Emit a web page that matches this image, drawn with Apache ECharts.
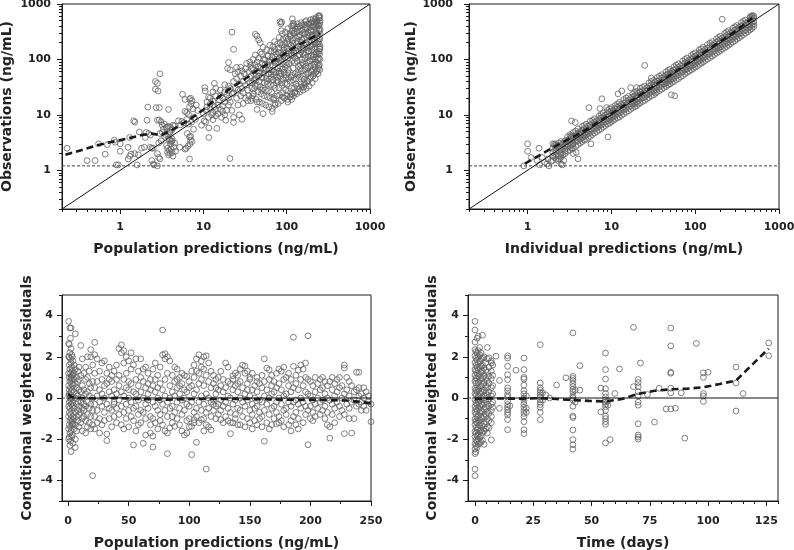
<!DOCTYPE html>
<html><head><meta charset="utf-8">
<script src="https://cdn.jsdelivr.net/npm/echarts@6/dist/echarts.min.js"></script>
<style>html,body{margin:0;padding:0;background:#fff}#c{width:794px;height:550px}</style>
</head><body><div id="c"></div>
<script>
// ---------- Panel 1: population predictions vs observations (ng/mL) ----------
const p1Sparse = [[0.23,2.5],[0.4,1.5],[0.5,1.5],[0.55,3.0],[0.66,1.95],[0.7,2.9],[0.85,3.5],[0.87,3.2],[0.9,1.25],[0.95,1.25],[1.0,3.0],[1.0,2.2],[1.24,2.6],[1.3,3.9],[1.3,1.8],[1.25,1.6],[1.35,1.95],[1.45,7.8],[1.5,7.4],[1.5,2.0],[1.6,1.25],[1.65,1.9],[1.7,4.9],[1.8,2.5],[1.95,2.6],[2.0,3.9],[2.05,4.8],[2.1,8.0],[2.15,13.8],[2.2,4.6],[2.3,4.3],[2.3,2.6],[2.4,2.5],[2.5,2.5],[2.4,1.5],[2.5,1.3],[2.55,1.25],[2.65,40],[2.8,37],[2.65,29],[2.85,27],[2.7,13.5],[2.95,13.5],[3.0,55],[2.8,8],[2.95,8.1],[2.8,2.0],[2.9,1.7],[3.0,1.6],[2.8,1.2],
[3.1,7.5],[3.2,6.5],[3.3,5.5],[3.4,6.8],[3.5,4.4],[3.6,5.9],[3.2,4.8],[3.4,4.1],[3.8,6.2],[4.2,5.4],[4.5,6.3],[4.0,4.9],[3.0,4.6],[3.1,3.4],[2.9,3.1],
[3.7,2.1],[3.8,1.9],[3.9,2.3],[4.0,2.0],[4.1,2.4],[4.2,2.1],[4.3,1.8],[4.4,2.6],[3.6,2.8],[4.0,3.0],[4.2,3.4],[3.9,3.6],[4.5,3.1],[3.7,2.5],[4.6,2.2],
[3.6,6],[3.7,4.5],[3.9,4.8],[3.9,3.5],[4.1,3.3],[4.2,3.7],[4,6],[4.3,6.5],[3.8,12.5],
[5.6,23.5],[6,19],[6.0,11.5],[6.3,11],[6.3,8.3],[5.8,7.2],[5.5,7.6],[6.2,2.5],[6,2.4],[6.5,2.7],[6.8,1.6],[6.8,19],[7,20],[7.3,18],[6.8,4],[7,4.1],[7,3.5],[7.3,3.3],[6.9,3.0],[7.7,9],[8,8.3],[8.5,12],[9.5,6.5],[5.0,7.8],[5.3,6.6],[6.6,6.8],[7.2,7.4],[6.6,10.2],[7.5,12.8],[8.2,15],[5.2,2.6],[6.4,4.6],[7.6,5.5],[6.8,14],[7.1,16],
[10.4,31],[10.5,27],[11.5,21],[11,17],[10.2,7.8],[10.6,7.4],[11.6,3.9],[11.6,5.8],[14.5,5.7],[13,26],[14,30],[13.5,37],[13.5,14],[14,12.5],[16,12.5],[17,11.5],[10,10.5],[10.8,12],[11.5,9],[12,13],[12.5,10],[12,15.5],[13,17.5],[13,8.2],[14,9.6],[15,15],[15.5,18.5],[16,22],[17,20],[17,14.5],[18,17],[18,26],[19,23],[19,12],[20,20],[15,10.5],[16.5,9],[18.5,8],[12,20],[14,22],[16,28],[18,35],[11,14],[13,11],[20,15],[20,27],[21,30],[21,17],[22,24],[22,12],[18,10],
[20,33],[19.5,69],[21,65],[22,310],[23,152],[20,88],[20.8,1.63],[23,9],[23,7.3],[27,10],[29,8.3],[25,72],[28,72],[33,85],[37,78],[23,40],[24,30],[25,20],[25,45],[26,28],[27,36],[28,22],[28,50],[29,30],[30,40],[30,25],[31,55],[32,20],[32,34],[33,45],[34,28],[35,60],[35,22],[36,38],[37,50],[38,30],[39,70],[40,42],[40,24],[24,55],[26,15],[30,16],[34,18],[38,20],[23,25],[26,60],[29,62],[32,68],[36,90],
[42,285],[44,265],[46,225],[48,200],[52,165],[37,18],[44,17],[44,12.5],[52,10.5],[67,11.5],[72,16],[70,20],
[83,480],[87,470],[85,440],[86,330],[117,540],[120,450],[120,400],[160,32],[125,25],[110,21],[115,19],[103,17],[245,620]];
const p1Dense = [
[39,22],[41,30],[38.5,38],[42,45],[40,55],[37.5,68],[41.5,80],[39.5,100],
[43,19],[45,26],[44.5,34],[42.5,42],[46,50],[43.5,62],[45.5,75],[44,90],[42,120],
[47,17],[49.5,24],[48,32],[46.5,40],[50,48],[47.5,58],[49,70],[51,85],[46,105],[48.5,135],
[51,16],[53.5,22],[52,30],[54,38],[50.5,47],[53,56],[51.5,68],[55,82],[52.5,100],[50,125],
[56,15],[58.5,21],[55.5,28],[59,36],[57,45],[60,55],[56.5,66],[58,80],[55,98],[59.5,118],[57.5,150],
[61,14],[63.5,20],[60.5,27],[64,35],[62,44],[65,54],[61.5,65],[63,78],[66,95],[60,115],[64.5,140],[62.5,180],
[67,13],[69.5,19],[66,26],[70,34],[68.5,43],[71,53],[67.5,64],[69,77],[72,92],[66.5,112],[70.5,138],[68,170],[71.5,210],
[73,15],[76,22],[72.5,30],[75,38],[77,48],[74,58],[78,70],[73.5,85],[76.5,102],[75.5,125],[72,150],[77.5,190],
[79,16],[82,23],[80.5,31],[78.5,40],[83,50],[81,61],[84,74],[79.5,90],[82.5,108],[85,130],[80,160],[83.5,200],[81.5,250],
[86,18],[89,25],[87.5,34],[90,44],[85.5,55],[88,67],[91,82],[86.5,100],[89.5,122],[92,148],[87,180],[90.5,230],[88.5,290],
[94,20],[97,28],[95.5,37],[98,47],[93,58],[96,72],[99,88],[94.5,106],[97.5,130],[100,158],[95,195],[98.5,245],[96.5,310],
[102,19],[105,27],[101,36],[106,46],[103.5,57],[107,85],[104,105],[108,128],[102.5,155],[106.5,190],[104.5,235],[109,290],[103,360],
[111,21],[114,30],[110,40],[115,52],[117,95],[112.5,118],[116,145],[113,178],[118,220],[111.5,270],[115.5,330],[114.5,400],
[121,22],[124,31],[120,42],[126,55],[127,105],[122.5,130],[125,160],[119,195],[128,240],[123,295],[126.5,360],[121.5,420],
[132,24],[135,33],[130,45],[137,58],[139,75],[133.5,92],[136,115],[131,140],[138,172],[134,210],[140,258],[132.5,315],[136.5,380],[134.5,440],
[144,26],[148,36],[142,48],[150,62],[146,80],[152,98],[143,122],[149,150],[147,185],[153,225],[145.5,275],[151,335],[144.5,400],[148.5,460],
[157,28],[161,38],[155,50],[164,65],[159,84],[166,104],[156,128],[162,158],[168,195],[160,240],[165,290],[158.5,350],[163,420],[167,480],
[171,30],[176,41],[169,54],[179,70],[174,88],[181,110],[170,135],[177,165],[183,205],[173,250],[180,305],[175,370],[178,440],[172,500],
[186,33],[191,45],[184,58],[194,75],[189,94],[197,116],[185,142],[192,175],[199,215],[188,262],[195,320],[190,385],[196,455],[193,520],
[202,38],[207,50],[200,64],[210,82],[205,100],[213,122],[201,150],[209,185],[215,225],[204,275],[211,335],[206,400],[214,470],[208,540],
[219,45],[224,58],[217,72],[227,90],[222,110],[229,135],[218,165],[226,200],[231,245],[221,300],[228,360],[223,430],[230,500],[225,570],
[237,55],[241,68],[234,84],[243,104],[239,128],[245,156],[235,190],[242,232],[236,285],[244,345],[240,410],[233,480],[246,560],
[249,65],[247,80],[250,100],[248,125],[251,155],[246,190],[250,235],[248,290],[252,350],[247,420],[250,500],[249,600],
[42,33],[46,58],[50,28],[54,64],[58,40],[61,90],[65,48],[70,60],[73,110],[76,42],[79,135],[82,56],[85,95],[88,38],[91,115],[93,165],[97,52],[100,78],[101,210],[105,66],[107,140],[110,260],[113,48],[116,120],[119,70],[120,300],[124,88],[127,200],[129,36],[131,165],[134,265],[137,52],[140,120],[142,345],[146,68],[149,205],[151,420],[154,88],[157,160],[159,300],[162,44],[165,120],[168,380],[170,75],[173,180],[176,280],[179,56],[182,140],[185,440],[188,95],[191,230],[194,340],[197,60],[200,165],[203,480],[206,110],[210,260],[213,390],[216,80],[219,190],[222,520],[225,125],[228,290],[232,440],[235,100],[238,210],[241,600],[244,140],[247,320],[249,460],[251,170],[243,75],[230,62],[214,55],[196,48],[180,40],[166,36],[152,32],[139,29],[126,26],[114,24],[100,22],[90,21]
];
const p1Trend = [[0.22,1.9],[0.52,2.8],[0.78,3.25],[1.24,3.75],[1.78,4.3],[2.35,4.6],[3.1,4.3],[4.0,5.1],[4.9,6.1],[6.4,7.8],[8,9.8],[10,12.5],[14,19],[21,30],[30,42],[45,65],[65,90],[84,112],[120,160],[170,215],[250,295]];

// ---------- Panel 2: individual predictions vs observations ----------
const p2Sparse = [[0.9,1.2],[1.0,3.0],[1.0,2.2],[1.1,1.7],[1.37,2.5],[1.4,1.25],[1.6,1.4],[1.7,1.3],[1.75,1.6],[1.8,1.2],[2.1,3.0],[2.2,2.9],[2.3,1.5],[2.5,1.3],[2.6,1.25],[2.5,1.9],[2.8,2.2],[1.3,1.5],[1.5,1.7],[1.9,1.45],[2.0,1.8],[2.4,1.6],[2.7,1.5],
[3.35,7.8],[3.7,7.3],[3.3,4.2],[3.5,3.8],[3.5,2.0],[3.8,2.1],[4.0,1.6],[4.1,4.4],[5.4,13.5],[5.7,3.0],[7.7,19.5],[7.3,13],[9.1,4.0],[8.8,13.5],[13.3,27],[25,78],[52,23],[57,22],[210,530],[12,24],[17,31],[30,46],[480,620],[460,600]];
const p2Cols = [
 [2.0,[1.5,1.8,2.1,2.5,3.0]],[2.2,[1.6,1.9,2.3,2.7]],[2.5,[1.7,2.0,2.4,2.9,3.3]],[2.8,[2.0,2.4,2.8,3.4]],
 [3.2,[2.3,2.7,3.2,3.7,4.4]],[3.5,[2.5,3.0,3.5,4.1,4.8]],[4.0,[2.9,3.4,4.0,4.7,5.6]],[4.5,[3.3,3.9,4.6,5.3,6.2]],
 [5.0,[3.6,4.3,5.0,5.8,6.8]],[5.6,[4.1,4.8,5.6,6.6,7.7]],[6.3,[4.7,5.5,6.4,7.4,8.5]],[7.1,[5.3,6.2,7.2,8.2,9.5]],
 [8.0,[6.0,7.0,8.1,9.3,10.8]],[9.0,[6.8,7.9,9.1,10.5,12]],[10,[7.5,8.7,10,11.5,13.5]],[11,[8.3,9.6,11.2,12.8,14.6]],
 [12.5,[9.2,10.8,12.6,14.5,16.8]],[14,[10.4,12.1,14,16.2,18.8]],[16,[11.8,13.8,16,18.5,21.5]],[18,[13.5,15.6,18.2,21,24]],
 [20,[14.6,17,19.8,23,26.5,31]],[22,[16.5,19.2,22.5,26,30]],[25,[18.2,21.2,24.6,28.5,33]],[28,[20.5,24,28,32.5,37.5]],
 [32,[23,27,31.5,36.5,42]],[35,[25.5,30,35,40.5,47]],[40,[29,34,39.5,46,53]],[45,[32.5,38,44.5,52,60]],
 [50,[36,42,49,57,66]],[56,[40,47,55,64,74]],[63,[45,53,62,72,83]],[71,[51,60,70,81,94]],
 [80,[58,67,78,91,106]],[90,[65,76,88,102,118]],[100,[72,84,98,114,132]],[112,[81,95,110,128,148]],
 [125,[90,105,122,142,165]],[140,[101,118,137,160,185]],[160,[115,135,157,182,210]],[180,[130,152,176,204,236]],
 [200,[145,168,196,228,262]],[225,[163,190,220,256,295]],[250,[180,210,245,285,330]],[280,[205,238,275,318,365]],
 [315,[232,268,310,357,410]],[355,[262,302,348,400,460]],[400,[298,340,392,450,515]],[450,[340,385,440,505,570]],
 [500,[390,430,490,560,610]],
 [2.1,[1.7,2.3,2.8]],[2.35,[1.8,2.2,2.6,3.1]],[2.65,[1.9,2.6,3.1]],[3.0,[2.2,2.6,3.0,3.5,4.0]],
 [3.35,[2.5,2.9,3.4,4.0]],[3.75,[2.7,3.3,3.8,4.4,5.1]],[4.25,[3.1,3.7,4.3,5.0]],[4.75,[3.5,4.1,4.7,5.5,6.4]],
 [5.3,[3.9,4.6,5.3,6.2]],[5.95,[4.4,5.2,6.0,7.0,8.0]],[6.7,[5.0,5.8,6.8,7.9]],[7.55,[5.6,6.6,7.6,8.8,10.1]],
 [8.5,[6.4,7.4,8.6,9.9]],[9.5,[7.1,8.3,9.6,11.2,12.8]],[10.5,[7.9,9.2,10.6,12.2]],[11.8,[8.8,10.2,11.9,13.7,15.8]],
 [13.2,[9.8,11.5,13.3,15.4]],[15,[11.1,12.9,15.1,17.4,20.1]],[17,[12.6,14.7,17.1,19.8]],[19,[14,16.3,19.1,22,25.5]],
 [21,[15.6,18.2,21.2,24.5]],[23.5,[17.3,20.2,23.6,27.3,31.5]],[26.5,[19.6,22.8,26.6,30.8]],[30,[22,25.8,30.1,34.8,40.2]],
 [33.5,[24.6,28.8,33.6,38.8]],[37.5,[27.4,32,37.6,43.5,50.1]],[42.5,[31,36.3,42.6,49.2]],[47.5,[34.5,40.4,47.5,55,63.5]],
 [53,[38.5,45,52.8,61]],[59.5,[43.2,50.5,59.2,68.5,79]],[67,[48.5,56.8,66.6,77]],[75.5,[54.8,64.2,75,86.8,100]],
 [85,[61.5,72,84.3,97.5]],[95,[68.5,80.3,94,108.8,125]],[106,[76.5,89.6,105,121.5]],[118,[85.3,100,117,135.6,156]],
 [132,[95.5,112,131,151.6]],[150,[108,127,148,171.5,197]],[170,[123,144,168,194.5]],[190,[137,161,188,217.5,250]],
 [212,[153,180,210,243]],[237,[171,200,234,271,312]],[265,[192,225,263,304]],[297,[216,252,295,340,388]],
 [335,[246,287,332,382]],[377,[280,322,372,428,490]],[425,[318,362,416,478]],[475,[360,410,465,530,590]]
];
const p2Trend = [[0.93,1.32],[1.4,1.87],[2.4,3.0],[3.5,4.0],[5,5.4],[10,10.4],[30,31],[100,104],[300,320],[480,560]];

// ---------- Panel 3: population predictions vs CWRES ----------
const p3Cols = [
 [0.5,[3.72,2.65,2.0,1.2,0.6,0.1,-0.4,-0.9,-1.5,-2.0]],[1,[2.6,2.0,1.6,1.0,0.4,-0.2,-0.7,-1.3,-1.9,0.2]],
 [1.5,[3.4,2.2,1.4,0.8,0.0,-0.5,-1.1,-1.7,-2.3]],[2,[2.9,1.9,1.2,0.5,-0.1,-0.8,-1.4,-2.1,0.9]],
 [2.5,[3.4,2.4,1.7,1.0,0.3,-0.3,-1.0,-1.6,-2.6]],[3,[2.1,1.5,0.7,0.0,-0.6,-1.2,-1.9,1.1]],
 [3.5,[2.0,1.3,0.4,-0.4,-1.1,-1.3,-1.8,0.9]],[4,[1.8,1.1,0.6,-0.2,-0.9,-1.25,-2.2]],
 [5,[1.6,0.9,0.3,-0.5,-1.0,-1.5,1.2]],[6,[3.12,1.4,0.7,0.0,-0.7,-1.3,-2.4,-2.0]],
 [7,[1.0,0.5,-0.3,-0.9,-1.6,0.2]],[8,[1.3,0.8,0.1,-0.6,-1.1,-0.2]],[9,[0.9,0.4,-0.4,-0.8,-1.4,1.5]],
 [10.5,[2.55,1.1,0.3,-0.2,-0.7,-1.2]],[11.8,[1.9,0.6,0.0,-0.5,-1.0,-1.6]],[13,[1.2,0.4,-0.3,-0.9,-0.6]],
 [14.5,[1.5,0.9,0.2,-0.4,-1.1,-1.7]],[16,[1.0,0.3,-0.2,-0.8,-1.4,2.0]],[17.5,[1.3,0.7,0.1,-0.5,-1.2]],
 [18.7,[2.35,2.0,0.5,-0.3,-0.9,-1.5]],[20.3,[-3.77,1.6,0.8,0.0,-0.6,-1.3]],
 [22,[2.7,1.2,0.5,-0.3,-0.9,-1.5,2.1]],[24,[1.9,0.8,0.1,-0.6,-1.2]],[26,[1.3,0.4,-0.2,-1.0,-1.7]],
 [28,[1.7,0.9,-0.4,-1.3,0.2]],[30,[1.8,0.6,0.0,-0.7,-1.1]],[32,[1.2,-0.3,-1.75,-2.07,0.7]],
 [34,[1.5,0.9,0.3,-0.5,-1.0]],[36,[0.8,0.1,-0.6,-1.4,1.1]],[38,[1.3,0.4,-0.2,-0.9,-0.3]],
 [40,[0.9,0.2,-0.5,-1.2,1.6]],[42,[2.4,1.1,0.6,-0.1,-0.8]],[44,[2.58,2.2,0.3,-0.4,-1.3]],
 [46,[2.3,1.7,0.9,0.1,-0.7,-1.5]],[48,[2.0,1.2,0.5,-0.3,-1.0]],[50,[1.8,0.8,0.0,-0.6,-1.4,0.4]],
 [52,[2.2,1.4,0.7,-0.2,-0.9]],[54,[1.6,0.3,-0.5,-1.1,-2.28]],[56,[1.9,0.9,0.2,-0.4,-1.6]],
 [58,[1.3,0.6,-0.1,-0.8,-1.3]],[60,[1.9,1.0,0.3,-0.6,-1.2]],[62,[0.8,0.0,-0.7,-2.2,1.4]],
 [64,[1.5,0.5,-0.3,-1.0,-1.8]],[66,[1.2,0.2,-0.5,-0.1,0.7]],[68,[0.9,0.4,-0.9,-1.3,-1.7]],
 [70,[1.4,0.6,-0.2,-1.0,-2.38,-1.85]],[72,[0.3,-0.4,-1.2,0.9,1.7]],[74,[1.1,0.5,-0.6,-1.5,0.0]],
 [76,[0.7,-0.1,-0.8,-1.1,1.5]],[78,[3.3,2.1,0.4,-0.3,-1.3]],[80,[2.15,1.9,0.9,0.1,-0.6,-1.6]],
 [82,[2.0,1.2,-0.2,-0.9,-1.7,-2.7]],[84,[1.8,0.6,0.0,-0.5,-1.45]],[86,[1.1,0.3,-0.4,-1.2,-0.9]],
 [88,[1.5,0.8,0.1,-0.7,-1.38]],[90,[1.4,0.5,-0.2,-1.0,0.9]],[92,[1.0,0.2,-0.5,-1.3,0.6]],
 [94,[1.2,0.7,-0.1,-0.8,-1.6]],[96,[1.1,0.4,-0.6,-1.8,0.0]],[98,[1.05,0.3,-0.3,-1.1,-1.7]],
 [100,[0.8,-0.4,-1.0,0.5,-1.4]],[102,[1.3,0.6,-0.2,-1.38,-2.75]],[104,[1.6,1.0,0.2,-0.7,-1.05,-1.2]],
 [106,[1.9,1.3,0.4,-0.5,-2.15,-0.9]],[108,[2.1,1.2,0.7,-0.2,-1.2]],[110,[1.8,1.5,0.9,0.1,-0.6,-1.05]],
 [112,[2.0,1.4,0.6,-0.3,-1.0,-1.6]],[114,[2.05,1.1,0.2,-0.7,-3.45,-1.3]],[116,[1.7,0.8,0.0,-0.5,-1.4]],
 [118,[1.3,0.5,-0.2,-0.9,-1.55]],[120,[1.1,0.7,-0.1,-0.6,-0.3]],[122,[0.9,0.2,-0.4,-1.0,0.5]],
 [124,[1.0,0.4,-0.3,-0.8]],[126,[0.6,-0.1,-0.6,-1.05,1.3]],[128,[0.9,0.3,-0.4,-1.2]],
 [130,[1.7,0.5,-0.2,-0.9]],[132,[1.5,0.1,-0.5,-1.1,0.8]],[134,[0.7,0.0,-0.7,-1.73,-1.2]],
 [136,[1.08,0.4,-0.3,-1.2,0.9]],[138,[0.6,-0.1,-0.8,-1.0,1.2]],[140,[1.1,0.3,-0.5,-1.3,0.7]],
 [142,[1.4,0.8,0.0,-0.6,-1.3]],[144,[1.6,0.5,-0.2,-0.9]],[146,[1.55,1.2,0.2,-0.4,-1.4]],
 [148,[1.3,0.7,-0.1,-1.0,0.4]],[150,[0.9,0.1,-0.6,-1.2,1.0]],[152,[1.2,0.4,-0.3,-0.8,-1.5]],
 [154,[0.6,0.0,-0.5,-1.1]],[156,[1.0,0.3,-0.4,-1.3,0.8]],[158,[0.7,-0.1,-0.7,-1.0]],
 [160,[1.1,0.5,-0.2,-0.9,-1.4]],[162,[1.9,0.8,0.1,-0.6,-2.1]],[164,[1.45,0.4,-0.3,-1.2]],
 [166,[1.37,0.9,0.0,-0.8,-1.5]],[168,[1.1,0.2,-0.5,-1.3,0.6]],[170,[0.8,0.3,-0.4,-1.0]],
 [172,[1.2,0.5,-0.2,-0.7,-1.25]],[174,[1.4,0.7,0.0,-0.9,-1.2]],[176,[1.3,0.4,-0.3,-1.1]],
 [178,[1.5,0.9,0.1,-0.6,-1.4]],[180,[1.0,0.2,-0.5,-0.8]],[182,[0.6,-0.2,-1.3,1.2]],
 [184,[0.9,0.3,-0.4,-1.1,-1.6]],[186,[2.95,1.54,0.5,-0.2,-0.9]],[188,[1.1,0.7,-0.1,-0.7,-1.3]],
 [190,[1.35,0.4,-0.3,-1.0,-1.5]],[192,[1.6,0.9,0.0,-0.5]],[194,[1.4,0.6,-0.2,-1.2]],
 [196,[1.7,1.0,0.3,-0.4,-0.8]],[198,[3.02,0.9,0.2,-0.6,-2.27]],[200,[0.8,0.1,-0.4,-1.0]],
 [202,[0.6,-0.1,-0.7,-1.1]],[204,[1.0,0.3,-0.3,-0.9]],[206,[0.7,0.0,-0.5]],[208,[0.9,0.4,-0.2,-0.8]],
 [210,[1.0,0.5,-0.1,-0.6]],[212,[0.8,0.2,-0.4,-1.0]],[214,[0.6,0.0,-0.7,-1.3]],[216,[0.8,-0.1,-1.4,-1.95]],
 [218,[1.0,0.4,-0.3,-0.8]],[220,[0.7,0.1,-0.5,-1.2]],[222,[0.9,0.3,-0.2]],[224,[1.0,0.5,-0.4,-0.9]],
 [226,[0.6,0.0,-0.6]],[228,[1.6,1.45,0.2,-0.8,-1.73]],[230,[1.0,0.4,-0.3]],[232,[0.8,0.1,-0.5,-1.0]],
 [234,[0.6,-0.2,-1.7]],[236,[0.3,-0.1,-1.0]],[238,[1.25,0.4,-0.4]],[240,[1.25,0.5,0.1,-0.3]],
 [242,[0.2,-0.2,-0.6]],[244,[0.5,0.0,-0.4]],[246,[-0.6,0.3]],[248,[-0.2,0.1]],[250,[-1.15,-0.3]]
];
const p3Trend = [[0,0.2],[3,0.05],[10,0.0],[20,-0.02],[40,0.0],[60,-0.05],[80,-0.08],[100,-0.05],[120,-0.05],[150,-0.05],[180,-0.08],[210,-0.1],[230,-0.12],[250,-0.25]];

// ---------- Panel 4: time (days) vs CWRES ----------
const p4Cols = [
 [0,[3.72,3.3,2.72,2.35,2.05,1.72,1.38,1.12,0.83,0.47,0.22,-0.08,-0.41,-0.68,-1.02,-1.29,-1.63,-1.88,-2.21,-2.48,-2.7,-3.45,-3.77]],
 [0.4,[2.25,1.93,1.58,1.31,0.97,0.72,0.38,0.12,-0.24,-0.53,-0.79,-1.14,-1.43,-1.72,-2.04,-2.31,-2.62]],
 [0.9,[2.9,2.18,1.85,1.49,1.2,0.9,0.55,0.3,-0.05,-0.33,-0.62,-0.95,-1.22,-1.55,-1.84,-2.12,-2.4]],
 [1.4,[3.0,2.3,2.0,1.66,1.35,1.04,0.75,0.41,0.08,-0.18,-0.47,-0.86,-1.12,-1.45,-1.75,-2.0,-2.25]],
 [2,[2.45,2.1,1.8,1.5,1.15,0.86,0.52,0.21,-0.14,-0.41,-0.7,-1.05,-1.33,-1.62,-1.93,-2.2]],
 [2.6,[2.2,1.9,1.55,1.25,0.95,0.6,0.33,0.0,-0.3,-0.6,-0.9,-1.2,-1.55,-1.85,-2.15]],
 [3.2,[3.05,1.95,1.6,1.3,0.98,0.66,0.3,-0.05,-0.35,-0.7,-1.0,-1.35,-1.68,-2.05]],
 [3.9,[2.0,1.45,1.1,0.75,0.4,0.1,-0.25,-0.55,-0.9,-1.25,-1.6,-2.25]],
 [4.6,[1.7,1.35,0.95,0.6,0.25,-0.1,-0.45,-0.8,-1.15,-1.5]],
 [5.3,[2.45,1.9,1.25,0.85,0.5,0.15,-0.3,-0.65,-1.0,-1.4,-1.7]],
 [6,[1.95,1.5,1.05,0.7,0.3,-0.05,-0.4,-0.75,-1.1,-1.45]],
 [7,[1.8,1.7,1.3,0.95,0.5,0.1,-0.3,-0.6,-0.9,-1.2,-2.03]],
 [7.6,[1.6,1.1,0.6,0.2,-0.2,-0.45]],[9,[2.03]],[10.5,[0.85,-0.5]],
 [14,[2.05,1.94,1.54,1.13,0.89,0.49,0.35,0.16,0.05,-0.16,-0.32,-0.45,-0.57,-0.7,-0.81,-1.05,-1.54]],
 [15,[-0.38]],[17.6,[1.35]],
 [21,[1.94,1.38,1.0,0.92,0.62,0.35,0.2,0.0,-0.12,-0.3,-0.45,-0.6,-0.75,-0.9,-1.15,-1.54,-1.73]],
 [22,[-0.5,-0.7,0.1]],
 [28,[2.59,0.73,0.5,0.38,0.27,0.15,0.05,-0.08,-0.2,-0.32,-0.45,-0.7,-1.05]],
 [29,[0.25,-0.1]],[30.4,[0.15]],[32,[0.0]],[35,[0.63]],[39,[0.98]],
 [42,[3.16,1.05,0.95,0.85,0.7,0.55,0.42,0.3,0.1,0.0,-0.1,-0.4,-0.88,-0.95,-1.55,-2.02,-2.27,-2.48]],
 [43,[0.38,-0.2]],[45,[1.57,0.38]],[54,[-0.67,0.48]],
 [56,[2.18,1.38,0.92,0.45,0.22,0.05,-0.1,-0.2,-0.3,-0.42,-0.6,-0.88,-1.0,-1.15,-1.28,-2.18]],
 [57,[-0.15,-0.35]],[58,[-2.02]],[60,[0.22]],[62,[1.41]],[68,[3.43,0.55]],
 [70,[0.9,0.75,0.55,0.3,0.1,-0.2,-0.35,-1.25,-1.8,-1.9,-2.0]],
 [71,[1.7]],[74,[0.17]],[77,[-1.17]],[79,[0.47]],[82,[-0.53]],
 [84,[3.4,2.53,1.25,1.2,0.48,0.25,-0.53]],[86,[-0.5]],[88.5,[0.25]],[90,[-1.95]],[95,[2.65]],
 [98,[1.22,1.0,0.22,0.1,-0.17]],[100,[1.25]],[112,[1.5,0.73,-0.63]],[115,[0.22]],[126,[2.67,2.05]]
];
const p4Trend = [[0,-0.05],[7,-0.02],[14,-0.03],[21,-0.03],[28,-0.01],[35,-0.05],[42,-0.1],[49,-0.14],[56,-0.17],[63,-0.05],[70,0.2],[77,0.35],[84,0.42],[91,0.45],[98,0.52],[105,0.68],[112,0.85],[126,2.4]];

// ---------- axis tick labels ----------
const logLabels = [1, 10, 100, 1000];
const p3XLabels = [0, 50, 100, 150, 200, 250];
const p4XLabels = [0, 25, 50, 75, 100, 125];
const cwresLabels = [-4, -2, 0, 2, 4];
const LLOQ = 1.2;

// ---------- build ----------
const L = Math.log10;
const FONT = 'DejaVu Sans';
const flat = cols => cols.flatMap(([x, ys]) => ys.map(y => [x, y]));
const toLog = pts => pts.map(([x, y]) => [L(x), L(y)]);
const P1 = toLog(p1Sparse.concat(p1Dense));
const P2 = toLog(p2Sparse.concat(flat(p2Cols)));
const P3 = flat(p3Cols);
const P4 = flat(p4Cols);

const LMIN = L(0.2), LMAX = 3;
const logMajor = logLabels.map(L);
const logMinor = [];
for (let e = -1; e <= 2; e++) for (let k = 2; k <= 9; k++) {
  const v = L(k * Math.pow(10, e));
  if (v >= LMIN - 1e-9 && v <= LMAX) logMinor.push(v);
}
const p3Minor = [25, 75, 125, 175, 225];
const p4Minor = [];
for (let t = 5; t <= 130; t += 5) if (t % 25) p4Minor.push(t);
const cwMinor = [-5, -3, -1, 1, 3, 5];

const axisColor = '#1a1a1a';
const lblStyle = { fontFamily: FONT, fontWeight: 'bold', fontSize: 11, color: '#222' };
const nameStyle = { fontFamily: FONT, fontWeight: 'bold', fontSize: 14, color: '#222' };

function axes(grid, min, max, major, minor, labels, fmt, name, nameGap, margin, isY) {
  const main = {
    type: 'value', gridIndex: grid, min, max,
    axisLine: { show: true, onZero: false, lineStyle: { color: axisColor, width: 1 } },
    axisTick: { show: true, customValues: major, length: 5, lineStyle: { color: axisColor, width: 1 } },
    axisLabel: Object.assign({ customValues: labels, formatter: fmt, margin }, lblStyle),
    splitLine: { show: false },
    name, nameLocation: 'middle', nameGap, nameTextStyle: nameStyle
  };
  const mn = {
    type: 'value', gridIndex: grid, min, max,
    axisLine: { show: false, onZero: false },
    axisTick: { show: true, customValues: minor, length: 3, lineStyle: { color: axisColor, width: 1 } },
    axisLabel: { show: false }, splitLine: { show: false }
  };
  if (isY) { main.position = 'left'; mn.position = 'left'; } else { main.position = 'bottom'; mn.position = 'bottom'; }
  return [main, mn];
}
const logFmt = v => String(Math.round(Math.pow(10, v)));
const numFmt = v => String(v);

const xAxis = [].concat(
  axes(0, LMIN, LMAX, logMajor, logMinor, logMajor, logFmt, 'Population predictions (ng/mL)', 33, 13, false),
  axes(1, LMIN, LMAX, logMajor, logMinor, logMajor, logFmt, 'Individual predictions (ng/mL)', 33, 13, false),
  axes(2, -5, 250, p3XLabels, p3Minor, p3XLabels, numFmt, 'Population predictions (ng/mL)', 35, 15, false),
  axes(3, -3, 130, p4XLabels, p4Minor, p4XLabels, numFmt, 'Time (days)', 35, 15, false)
);
const yAxis = [].concat(
  axes(0, LMIN, LMAX, logMajor, logMinor, logMajor, logFmt, 'Observations (ng/mL)', 48, 11, true),
  axes(1, LMIN, LMAX, logMajor, logMinor, logMajor, logFmt, 'Observations (ng/mL)', 50, 16, true),
  axes(2, -5, 5, cwresLabels, cwMinor, cwresLabels, numFmt, 'Conditional weighted residuals', 28, 9, true),
  axes(3, -5, 5, cwresLabels, cwMinor, cwresLabels, numFmt, 'Conditional weighted residuals', 29, 9, true)
);

const gridBase = { show: true, borderColor: axisColor, borderWidth: 1, backgroundColor: 'transparent', containLabel: false, outerBoundsMode: 'none' };
const grid = [
  Object.assign({ left: 62, top: 4, width: 308, height: 205 }, gridBase),
  Object.assign({ left: 469, top: 4, width: 310, height: 205 }, gridBase),
  Object.assign({ left: 62, top: 295, width: 309, height: 206 }, gridBase),
  Object.assign({ left: 468, top: 295, width: 310, height: 206 }, gridBase)
];

function scatter(i, data) {
  return { type: 'scatter', xAxisIndex: 2 * i, yAxisIndex: 2 * i, data, symbol: 'circle', symbolSize: 5.8,
    itemStyle: { color: 'rgba(0,0,0,0)', borderColor: '#626262', borderWidth: 1 }, silent: true, z: 2 };
}
function line(i, data, style, z) {
  return { type: 'line', xAxisIndex: 2 * i, yAxisIndex: 2 * i, data, symbol: 'none', silent: true, z: z || 3,
    lineStyle: style };
}
const solid = { color: '#111', width: 1, type: 'solid' };
const dotted = { color: '#444', width: 1, type: [3, 2] };
const trend = { color: '#1a1a1a', width: 2.6, type: [7, 4] };

const series = [
  scatter(0, P1), scatter(1, P2), scatter(2, P3), scatter(3, P4),
  line(0, [[LMIN, LMIN], [LMAX, LMAX]], solid),
  line(1, [[LMIN, LMIN], [LMAX, LMAX]], solid),
  line(0, [[LMIN, L(LLOQ)], [LMAX, L(LLOQ)]], dotted),
  line(1, [[LMIN, L(LLOQ)], [LMAX, L(LLOQ)]], dotted),
  line(2, [[0, 0], [250, 0]], solid), line(2, [[-5, 0], [0, 0]], dotted),
  line(3, [[0, 0], [130, 0]], solid), line(3, [[-3, 0], [0, 0]], dotted),
  line(0, toLog(p1Trend), trend, 4),
  line(1, toLog(p2Trend), trend, 4),
  line(2, p3Trend, trend, 4),
  line(3, p4Trend, trend, 4)
];

const chart = echarts.init(document.getElementById('c'), null, { renderer: 'canvas' });
chart.setOption({ animation: false, backgroundColor: '#fff', grid, xAxis, yAxis, series });
</script></body></html>
